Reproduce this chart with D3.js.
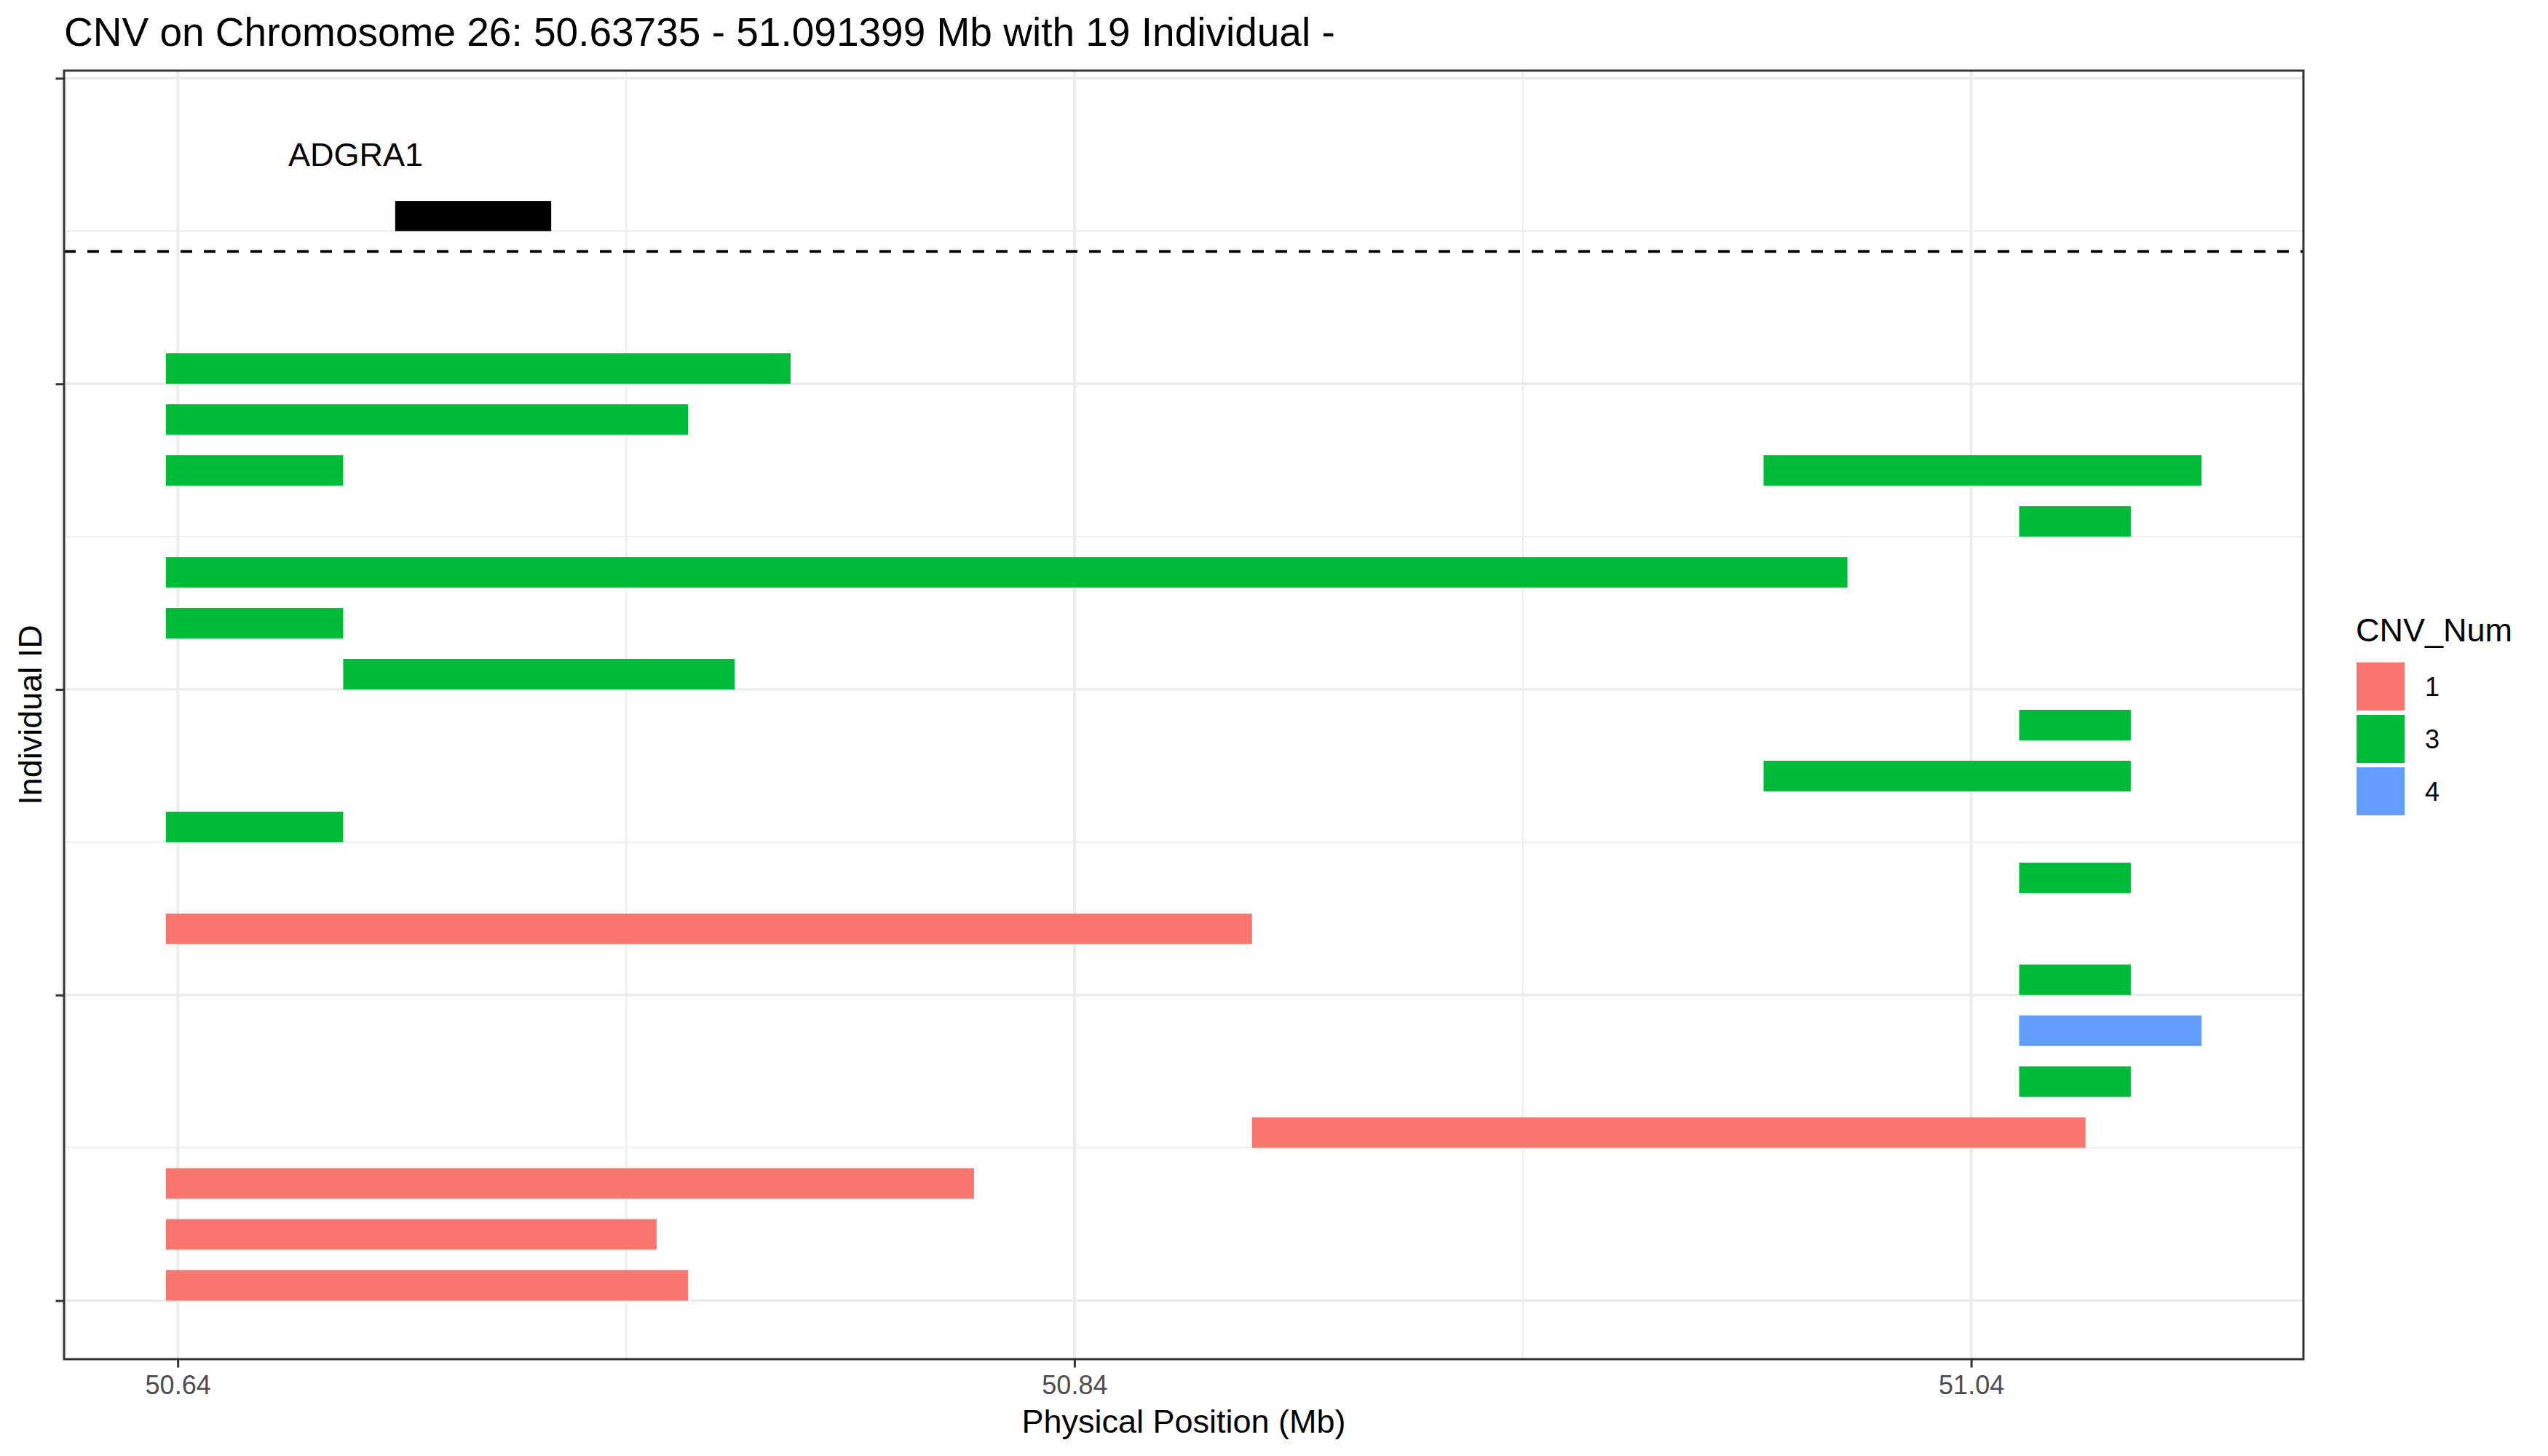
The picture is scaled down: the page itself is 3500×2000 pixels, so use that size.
<!DOCTYPE html>
<html>
<head>
<meta charset="utf-8">
<script src="https://cdn.jsdelivr.net/npm/d3@7"></script>
<style>
  html, body { margin: 0; padding: 0; background: #fff; }
  svg { display: block; font-family: "Liberation Sans", Arial, sans-serif; }
</style>
</head>
<body>
<script>
// ---------------- DATA ----------------
const chartTitle = "CNV on Chromosome 26: 50.63735 - 51.091399 Mb with 19 Individual -";
const regionStart = 50.63735;
const regionEnd = 51.091399;

// one entry per CNV segment; row 18 = top individual, row 0 = bottom individual
const cnvRow   = [18, 17, 16, 16, 15, 14, 13, 12, 11, 10, 9, 8, 7, 6, 5, 4, 3, 2, 1, 0];
const cnvStart = [50.63735, 50.63735, 50.63735, 50.9937, 51.0507, 50.63735, 50.63735, 50.6769, 51.0507, 50.9937,
                  50.63735, 51.0507, 50.63735, 51.0507, 51.0507, 51.0507, 50.8796, 50.63735, 50.63735, 50.63735];
const cnvEnd   = [50.7767, 50.7538, 50.6769, 51.091399, 51.0756, 51.0124, 50.6769, 50.7642, 51.0756, 51.0756,
                  50.6769, 51.0756, 50.8796, 51.0756, 51.091399, 51.0756, 51.0655, 50.8176, 50.7468, 50.7538];
const cnvNum   = [3, 3, 3, 3, 3, 3, 3, 3, 3, 3, 3, 3, 1, 3, 4, 3, 1, 1, 1, 1];

const geneNames = ["ADGRA1"];
const geneStart = [50.6885];
const geneEnd   = [50.7233];
const geneLabelX = [50.6797];

const legendLevels = [1, 3, 4];
const legendColors = ["#F8766D", "#00BA38", "#619CFF"];

const xMajorTicks = [50.64, 50.84, 51.04];
const xMinorTicks = [50.74, 50.94];
const yMajorTicks = [0, 6, 12, 18, 24];
const yMinorTicks = [3, 9, 15, 21];

// layout constants (track geometry in y units)
const barH = 0.6;
const geneY0 = 21, geneY1 = 21.59, geneLabelY = 22.5, dashY = 20.6;

// ---------------- CHART ----------------
const W = 3500, H = 2000;
const P = {left: 88, right: 3164, top: 97, bottom: 1867};

const svg = d3.select("body").append("svg").attr("width", W).attr("height", H);
svg.append("rect").attr("width", W).attr("height", H).attr("fill", "#fff");

const xr = regionEnd - regionStart;
const x = d3.scaleLinear().domain([regionStart - 0.05 * xr, regionEnd + 0.05 * xr]).range([P.left, P.right]);
const y = d3.scaleLinear().domain([-1.15, 24.15]).range([P.bottom, P.top]);
const color = d3.scaleOrdinal().domain(legendLevels).range(legendColors);

const g = svg.append("g");
// grid
g.selectAll(".xminor").data(xMinorTicks).join("line")
  .attr("x1", d => x(d)).attr("x2", d => x(d)).attr("y1", P.top).attr("y2", P.bottom)
  .attr("stroke", "#EBEBEB").attr("stroke-width", 1.8);
g.selectAll(".yminor").data(yMinorTicks).join("line")
  .attr("y1", d => y(d)).attr("y2", d => y(d)).attr("x1", P.left).attr("x2", P.right)
  .attr("stroke", "#EBEBEB").attr("stroke-width", 1.8);
g.selectAll(".xmajor").data(xMajorTicks).join("line")
  .attr("x1", d => x(d)).attr("x2", d => x(d)).attr("y1", P.top).attr("y2", P.bottom)
  .attr("stroke", "#EBEBEB").attr("stroke-width", 3.6);
g.selectAll(".ymajor").data(yMajorTicks).join("line")
  .attr("y1", d => y(d)).attr("y2", d => y(d)).attr("x1", P.left).attr("x2", P.right)
  .attr("stroke", "#EBEBEB").attr("stroke-width", 3.6);

// CNV bars
g.selectAll(".cnv").data(cnvRow.map((r, i) => ({r, s: cnvStart[i], e: cnvEnd[i], n: cnvNum[i]}))).join("rect")
  .attr("x", d => x(d.s)).attr("width", d => x(d.e) - x(d.s))
  .attr("y", d => y(d.r + barH)).attr("height", d => y(d.r) - y(d.r + barH))
  .attr("fill", d => color(d.n));

// dashed separator
g.append("line").attr("x1", P.left).attr("x2", P.right).attr("y1", y(dashY)).attr("y2", y(dashY))
  .attr("stroke", "#000").attr("stroke-width", 3.6).attr("stroke-dasharray", "16,16");

// gene
g.selectAll(".gene").data(geneNames.map((n, i) => ({n, s: geneStart[i], e: geneEnd[i], lx: geneLabelX[i]}))).join(enter => {
  const gg = enter.append("g");
  gg.append("rect").attr("x", d => x(d.s)).attr("width", d => x(d.e) - x(d.s))
    .attr("y", y(geneY1)).attr("height", y(geneY0) - y(geneY1)).attr("fill", "#000");
  gg.append("text").attr("x", d => x(d.lx)).attr("y", y(geneLabelY)).attr("dy", "0.35em")
    .attr("text-anchor", "middle").attr("font-size", 45).attr("fill", "#000").text(d => d.n);
  return gg;
});

// border
svg.append("rect").attr("x", P.left).attr("y", P.top).attr("width", P.right - P.left).attr("height", P.bottom - P.top)
  .attr("fill", "none").attr("stroke", "#333333").attr("stroke-width", 3);

// axes
const xAxis = svg.append("g").attr("transform", `translate(0,${P.bottom})`)
  .call(d3.axisBottom(x).tickValues(xMajorTicks).tickFormat(d3.format(".2f")).tickSize(11.5).tickPadding(11));
xAxis.select(".domain").remove();
xAxis.selectAll(".tick line").attr("stroke", "#333333").attr("stroke-width", 3);
xAxis.selectAll(".tick text").attr("font-size", 36).attr("fill", "#4D4D4D").attr("font-family", "Liberation Sans, Arial, sans-serif");

const yAxis = svg.append("g").attr("transform", `translate(${P.left},0)`)
  .call(d3.axisLeft(y).tickValues(yMajorTicks).tickFormat("").tickSize(11.5));
yAxis.select(".domain").remove();
yAxis.selectAll(".tick line").attr("stroke", "#333333").attr("stroke-width", 3);

// titles
svg.append("text").attr("x", P.left).attr("y", 63).attr("font-size", 55).attr("fill", "#000").text(chartTitle);
svg.append("text").attr("x", (P.left + P.right) / 2).attr("y", 1968).attr("text-anchor", "middle")
  .attr("font-size", 45).attr("fill", "#000").text("Physical Position (Mb)");
svg.append("text").attr("transform", `translate(57,${(P.top + P.bottom) / 2}) rotate(-90)`).attr("text-anchor", "middle")
  .attr("font-size", 45).attr("fill", "#000").text("Individual ID");

// legend
const lg = svg.append("g");
lg.append("text").attr("x", 3236).attr("y", 881).attr("font-size", 45).attr("fill", "#000").text("CNV_Num");
lg.selectAll(".key").data(legendLevels).join("rect")
  .attr("x", 3237).attr("y", (d, i) => 910 + i * 72).attr("width", 66).attr("height", 66)
  .attr("fill", d => color(d));
lg.selectAll(".klab").data(legendLevels).join("text")
  .attr("x", 3331).attr("y", (d, i) => 943 + i * 72).attr("dy", "0.35em")
  .attr("font-size", 36).attr("fill", "#000").text(d => d);
</script>
</body>
</html>
